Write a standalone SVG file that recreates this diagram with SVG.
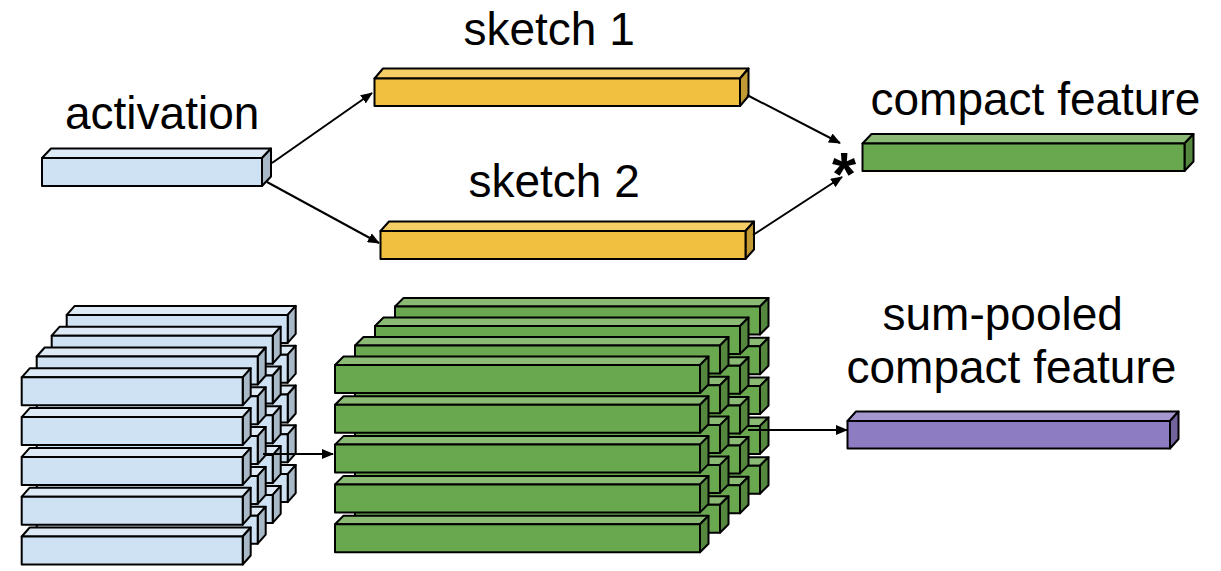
<svg xmlns="http://www.w3.org/2000/svg" xmlns:xlink="http://www.w3.org/1999/xlink" width="1221" height="571" viewBox="0 0 1221 571">
<style>
  .lbl { font-family: "Liberation Sans", Arial, sans-serif; font-size: 46px; fill: #000; }
  .star { font-family: "Liberation Sans", Arial, sans-serif; font-size: 62px; font-weight: bold; fill: #000; }
  .shape { stroke: #000; stroke-width: 2; stroke-linejoin: round; }
  .b-f { fill: #cfe2f3; } .b-t { fill: #dde9f5; } .b-s { fill: #a8b8c6; }
  .y-f { fill: #f1c040; } .y-t { fill: #f4cd66; } .y-s { fill: #c29a33; }
  .g-f { fill: #6aa84f; } .g-t { fill: #8aba74; } .g-s { fill: #55873f; }
  .p-f { fill: #8e7cc3; } .p-t { fill: #a697d0; } .p-s { fill: #72639c; }
  .conn line { stroke: #000; stroke-width: 2; fill: none; }
</style>
<defs>
  <marker id="ah" markerWidth="12" markerHeight="10" refX="11" refY="5" orient="auto" markerUnits="userSpaceOnUse">
    <polygon points="0,0 12,5 0,10" fill="#000" stroke="none"/>
  </marker>
  <g id="bbar">
    <polygon class="shape b-t" points="0,0 8,-9 229,-9 221,0"/>
    <polygon class="shape b-s" points="221,0 229,-9 229,19 221,28"/>
    <rect class="shape b-f" x="0" y="0" width="221" height="28"/>
  </g>
  <g id="gbar">
    <polygon class="shape g-t" points="0,0 8.5,-8.5 373.5,-8.5 365,0"/>
    <polygon class="shape g-s" points="365,0 373.5,-8.5 373.5,19.5 365,28"/>
    <rect class="shape g-f" x="0" y="0" width="365" height="28"/>
  </g>
</defs>
<rect width="1221" height="571" fill="#fff"/>

<g id="activation">
  <polygon class="shape b-t" points="42,158 51,148.5 271,148.5 262,158"/>
  <polygon class="shape b-s" points="262,158 271,148.5 271,176.5 262,186"/>
  <rect class="shape b-f" x="42" y="158" width="220" height="28"/>
  <text class="lbl" x="65" y="129">activation</text>
</g>

<g id="sketch1">
  <polygon class="shape y-t" points="374.5,78.5 383,68.5 748.5,68.5 740,78.5"/>
  <polygon class="shape y-s" points="740,78.5 748.5,68.5 748.5,96 740,106"/>
  <rect class="shape y-f" x="374.5" y="78.5" width="365.5" height="27.5"/>
  <text class="lbl" x="463.5" y="45">sketch 1</text>
</g>

<g id="sketch2">
  <polygon class="shape y-t" points="380.5,231 389,221.5 754,221.5 745.5,231"/>
  <polygon class="shape y-s" points="745.5,231 754,221.5 754,249.5 745.5,259"/>
  <rect class="shape y-f" x="380.5" y="231" width="365" height="28"/>
  <text class="lbl" x="468.5" y="197">sketch 2</text>
</g>

<g id="compact">
  <polygon class="shape g-t" points="862.5,143.5 871.5,134 1193.5,134 1184.5,143.5"/>
  <polygon class="shape g-s" points="1184.5,143.5 1193.5,134 1193.5,161.5 1184.5,171"/>
  <rect class="shape g-f" x="862.5" y="143.5" width="322" height="27.5"/>
  <text class="lbl" x="870.5" y="115">compact feature</text>
</g>

<g id="product">
  <text class="star" x="844" y="195" text-anchor="middle">*</text>
</g>

<g id="activation-stack">
  <use xlink:href="#bbar" x="66.7" y="314.9"/>
  <use xlink:href="#bbar" x="66.7" y="354.7"/>
  <use xlink:href="#bbar" x="66.7" y="394.5"/>
  <use xlink:href="#bbar" x="66.7" y="434.3"/>
  <use xlink:href="#bbar" x="66.7" y="474.1"/>
  <use xlink:href="#bbar" x="51.7" y="335.7"/>
  <use xlink:href="#bbar" x="51.7" y="375.5"/>
  <use xlink:href="#bbar" x="51.7" y="415.3"/>
  <use xlink:href="#bbar" x="51.7" y="455.1"/>
  <use xlink:href="#bbar" x="51.7" y="494.9"/>
  <use xlink:href="#bbar" x="36.7" y="356.5"/>
  <use xlink:href="#bbar" x="36.7" y="396.3"/>
  <use xlink:href="#bbar" x="36.7" y="436.1"/>
  <use xlink:href="#bbar" x="36.7" y="475.9"/>
  <use xlink:href="#bbar" x="36.7" y="515.7"/>
  <use xlink:href="#bbar" x="21.7" y="377.3"/>
  <use xlink:href="#bbar" x="21.7" y="417.1"/>
  <use xlink:href="#bbar" x="21.7" y="456.9"/>
  <use xlink:href="#bbar" x="21.7" y="496.7"/>
  <use xlink:href="#bbar" x="21.7" y="536.5"/>
</g>

<g id="sketch-stack">
  <use xlink:href="#gbar" x="395" y="306.5"/>
  <use xlink:href="#gbar" x="395" y="346.3"/>
  <use xlink:href="#gbar" x="395" y="386.1"/>
  <use xlink:href="#gbar" x="395" y="425.9"/>
  <use xlink:href="#gbar" x="395" y="465.7"/>
  <use xlink:href="#gbar" x="375" y="326"/>
  <use xlink:href="#gbar" x="375" y="365.8"/>
  <use xlink:href="#gbar" x="375" y="405.6"/>
  <use xlink:href="#gbar" x="375" y="445.4"/>
  <use xlink:href="#gbar" x="375" y="485.2"/>
  <use xlink:href="#gbar" x="355" y="345.5"/>
  <use xlink:href="#gbar" x="355" y="385.3"/>
  <use xlink:href="#gbar" x="355" y="425.1"/>
  <use xlink:href="#gbar" x="355" y="464.9"/>
  <use xlink:href="#gbar" x="355" y="504.7"/>
  <use xlink:href="#gbar" x="335" y="365"/>
  <use xlink:href="#gbar" x="335" y="404.8"/>
  <use xlink:href="#gbar" x="335" y="444.6"/>
  <use xlink:href="#gbar" x="335" y="484.4"/>
  <use xlink:href="#gbar" x="335" y="524.2"/>
</g>

<g id="pooled">
  <polygon class="shape p-t" points="847.5,421 856,411.5 1178.5,411.5 1170,421"/>
  <polygon class="shape p-s" points="1170,421 1178.5,411.5 1178.5,439 1170,448.5"/>
  <rect class="shape p-f" x="847.5" y="421" width="322.5" height="27.5"/>
  <text class="lbl" x="882.5" y="330">sum-pooled</text>
  <text class="lbl" x="846.5" y="383">compact feature</text>
</g>

<g id="connectors" class="conn">
  <line x1="272" y1="163" x2="372" y2="93" marker-end="url(#ah)"/>
  <line x1="267" y1="182" x2="379" y2="243" marker-end="url(#ah)"/>
  <line x1="747" y1="95" x2="840" y2="143" marker-end="url(#ah)"/>
  <line x1="753" y1="235" x2="842" y2="177" marker-end="url(#ah)"/>
  <line x1="263" y1="454" x2="333" y2="454" marker-end="url(#ah)"/>
  <line x1="748" y1="430" x2="847" y2="430" marker-end="url(#ah)"/>
</g>
</svg>
